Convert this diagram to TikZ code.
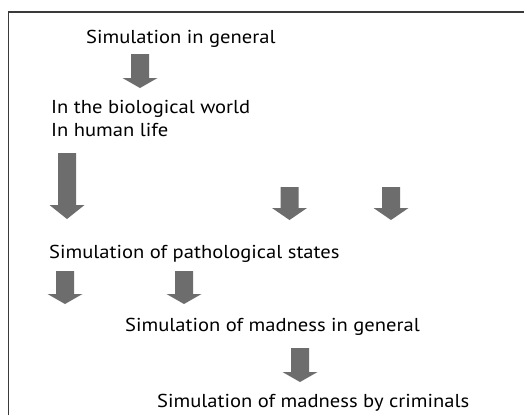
\documentclass[tikz,border=0pt]{standalone}
\usepackage{fontspec}
\setmainfont{PT Sans}[FakeStretch=1.1]
\definecolor{arrowgray}{HTML}{6D6D6D}
\definecolor{framegray}{HTML}{3A3A3A}
\tikzset{
  lbl/.style={anchor=base west, inner sep=0pt, font=\fontsize{18.7}{22}\selectfont, text=black},
  blockarrow/.style={fill=arrowgray, draw=none},
  framel/.style={draw=framegray, line width=1.4pt}
}
% #1 centre x, #2 shaft top y, #3 head top y, #4 tip y (pixels, y downwards)
\newcommand\myblockarrow[4]{%
  \fill[blockarrow] (#1-9,-#2) -- (#1+9,-#2) -- (#1+9,-#3) -- (#1+17.5,-#3)
     -- (#1,-#4) -- (#1-17.5,-#3) -- (#1-9,-#3) -- cycle;}
\begin{document}
\begin{tikzpicture}[x=1pt,y=1pt]
\useasboundingbox (0,0) rectangle (524,-415);
\fill[white] (0,0) rectangle (524,-415);
\draw[framel] (8.5,-415) -- (8.5,-12) -- (524,-12);

\node[lbl] (gen) at (86,-43) {Simulation in general};
\node[lbl] (bio) at (51,-113) {In the biological world};
\node[lbl] (hum) at (51,-136.5) {In human life};
\node[lbl] (path) at (49,-258) {Simulation of pathological states};
\node[lbl] (mad) at (125,-331) {Simulation of madness in general};
\node[lbl] (crim) at (157,-407) {Simulation of madness by criminals};

\myblockarrow{140}{54}{78}{88}
\myblockarrow{67}{153}{205}{219}
\myblockarrow{289.5}{187}{208}{220}
\myblockarrow{391}{187}{208}{220}
\myblockarrow{65}{271}{294}{304}
\myblockarrow{184}{271}{294}{304}
\myblockarrow{300}{348}{372}{382}
\end{tikzpicture}
\end{document}
